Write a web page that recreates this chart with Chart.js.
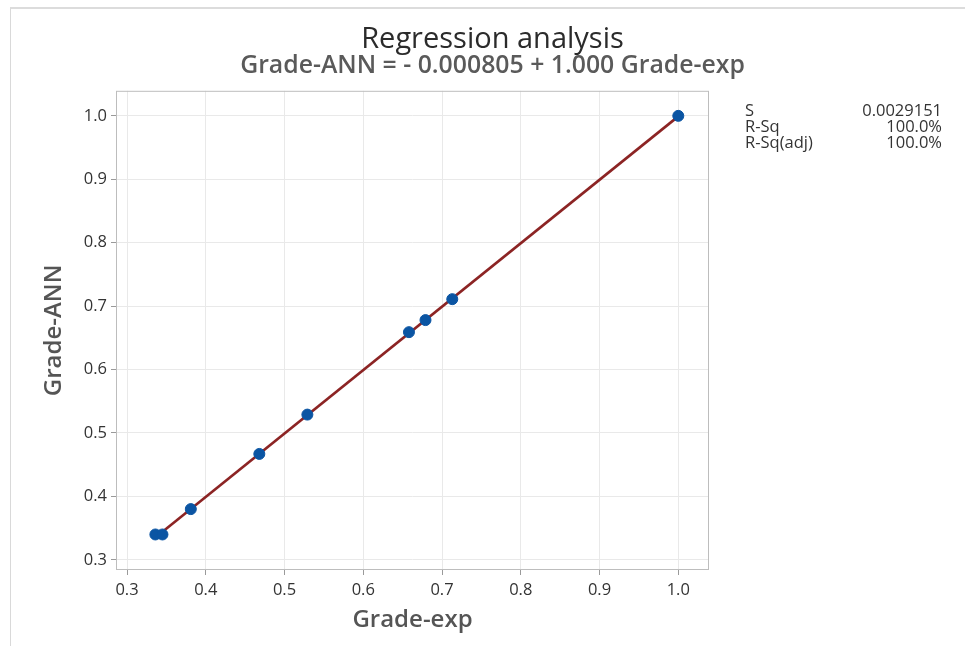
<!DOCTYPE html>
<html lang="en">
<head>
<meta charset="utf-8">
<title>Regression analysis</title>
<style>
    html, body { margin: 0; padding: 0; background: #fff; }
    #wrap { position: relative; width: 965px; height: 646px; overflow: hidden; }
    #frame {
        position: absolute; left: 10px; top: 7px; width: 960px; height: 650px;
        border-left: 1px solid #d9d9d9; border-top: 2px solid #dcdcdc;
        pointer-events: none;
    }
    #myChart { position: absolute; left: 0; top: 0; }
</style>
</head>
<body>
<div id="wrap">
    <canvas id="myChart" width="965" height="646"></canvas>
    <div id="frame"></div>
</div>

<script src="https://cdn.jsdelivr.net/npm/chart.js"></script>
<script>
    // observed values
    var gradeExp = [0.336, 0.345, 0.381, 0.468, 0.529, 0.658, 0.679, 0.713, 1.000];
    var gradeAnn = [0.340, 0.340, 0.380, 0.467, 0.529, 0.659, 0.678, 0.711, 1.000];

    // fitted line: Grade-ANN = -0.000805 + 1.000 Grade-exp
    var fitIntercept = -0.000805;
    var fitSlope = 1.000;

    var xTicks = [0.3, 0.4, 0.5, 0.6, 0.7, 0.8, 0.9, 1.0];
    var yTicks = [0.3, 0.4, 0.5, 0.6, 0.7, 0.8, 0.9, 1.0];

    var statLabels = ['S', 'R-Sq', 'R-Sq(adj)'];
    var statValues = ['0.0029151', '100.0%', '100.0%'];

    var fontFamily = '"Open Sans", "Noto Sans", sans-serif';

    var points = gradeExp.map(function (x, i) {
        return {x: x, y: gradeAnn[i]};
    });
    var xLo = Math.min.apply(null, gradeExp);
    var xHi = Math.max.apply(null, gradeExp);
    var fitLine = [
        {x: xLo, y: fitIntercept + fitSlope * xLo},
        {x: xHi, y: fitIntercept + fitSlope * xHi}
    ];

    function setTicks(values) {
        return function (scale) {
            scale.ticks = values.map(function (v) { return {value: v}; });
        };
    }

    // box round the plot area + the S / R-Sq table at the right
    var extras = {
        id: 'extras',
        afterDraw: function (chart) {
            var ctx = chart.ctx;
            var a = chart.chartArea;
            ctx.save();
            ctx.strokeStyle = '#bdbdbd';
            ctx.lineWidth = 1;
            ctx.strokeRect(a.left + 0.5, a.top + 0.5, a.right - a.left - 1, a.bottom - a.top - 1);

            ctx.fillStyle = '#333';
            ctx.font = '16.5px ' + fontFamily;
            ctx.textBaseline = 'middle';
            statLabels.forEach(function (label, i) {
                var y = 111 + i * 16;
                ctx.textAlign = 'left';
                ctx.fillText(label, 745, y);
                ctx.textAlign = 'right';
                ctx.fillText(statValues[i], 942, y);
            });
            ctx.restore();
        }
    };

    var data = {
        datasets: [{
            type: 'scatter',
            label: 'Grade-ANN',
            data: points,
            backgroundColor: '#0b55a3',
            borderColor: '#0b55a3',
            pointRadius: 5.5,
            pointHoverRadius: 5.5
        }, {
            type: 'line',
            label: 'Fit',
            data: fitLine,
            borderColor: '#8c2424',
            borderWidth: 2.6,
            pointRadius: 0,
            fill: false
        }]
    };

    var config = {
        type: 'scatter',
        data: data,
        options: {
            responsive: false,
            animation: false,
            layout: {padding: {left: 20, right: 0, top: 0, bottom: 0}},
            plugins: {
                legend: {display: false},
                tooltip: {enabled: false},
                title: {
                    display: true,
                    text: 'Regression analysis',
                    color: '#2b2b2b',
                    font: {family: fontFamily, size: 29, weight: '500', lineHeight: 1},
                    padding: {top: 25, bottom: 0}
                },
                subtitle: {
                    display: true,
                    text: 'Grade-ANN = - 0.000805 + 1.000 Grade-exp',
                    color: '#5a5a5a',
                    font: {family: fontFamily, size: 24.8, weight: '600', lineHeight: 1},
                    padding: {top: 0, bottom: 12}
                }
            },
            scales: {
                x: {
                    type: 'linear',
                    min: 0.286,
                    max: 1.039,
                    afterBuildTicks: setTicks(xTicks),
                    afterFit: function (scale) { scale.height = 76; },
                    grid: {color: '#e9e9e9', tickColor: '#9a9a9a', tickLength: 5},
                    border: {display: false},
                    ticks: {
                        color: '#333',
                        padding: 5,
                        font: {family: fontFamily, size: 16.5},
                        callback: function (v) { return v.toFixed(1); }
                    },
                    title: {
                        display: true,
                        text: 'Grade-exp',
                        color: '#555',
                        font: {family: fontFamily, size: 24, weight: '600'},
                        padding: {top: 4, bottom: 11}
                    }
                },
                y: {
                    type: 'linear',
                    min: 0.284,
                    max: 1.0395,
                    afterBuildTicks: setTicks(yTicks),
                    afterFit: function (scale) { scale.width = 96; },
                    grid: {color: '#e9e9e9', tickColor: '#9a9a9a', tickLength: 5},
                    border: {display: false},
                    ticks: {
                        color: '#333',
                        padding: 4,
                        font: {family: fontFamily, size: 16.5},
                        callback: function (v) { return v.toFixed(1); }
                    },
                    title: {
                        display: true,
                        text: 'Grade-ANN',
                        color: '#555',
                        font: {family: fontFamily, size: 24, weight: '600'},
                        padding: {top: 20, bottom: 0}
                    }
                },
                side: {
                    type: 'linear',
                    position: 'right',
                    min: 0,
                    max: 1,
                    afterFit: function (scale) { scale.width = 256; },
                    grid: {display: false},
                    border: {display: false},
                    ticks: {display: false}
                }
            }
        },
        plugins: [extras]
    };

    var myChart = new Chart(document.getElementById('myChart'), config);
</script>
</body>
</html>
